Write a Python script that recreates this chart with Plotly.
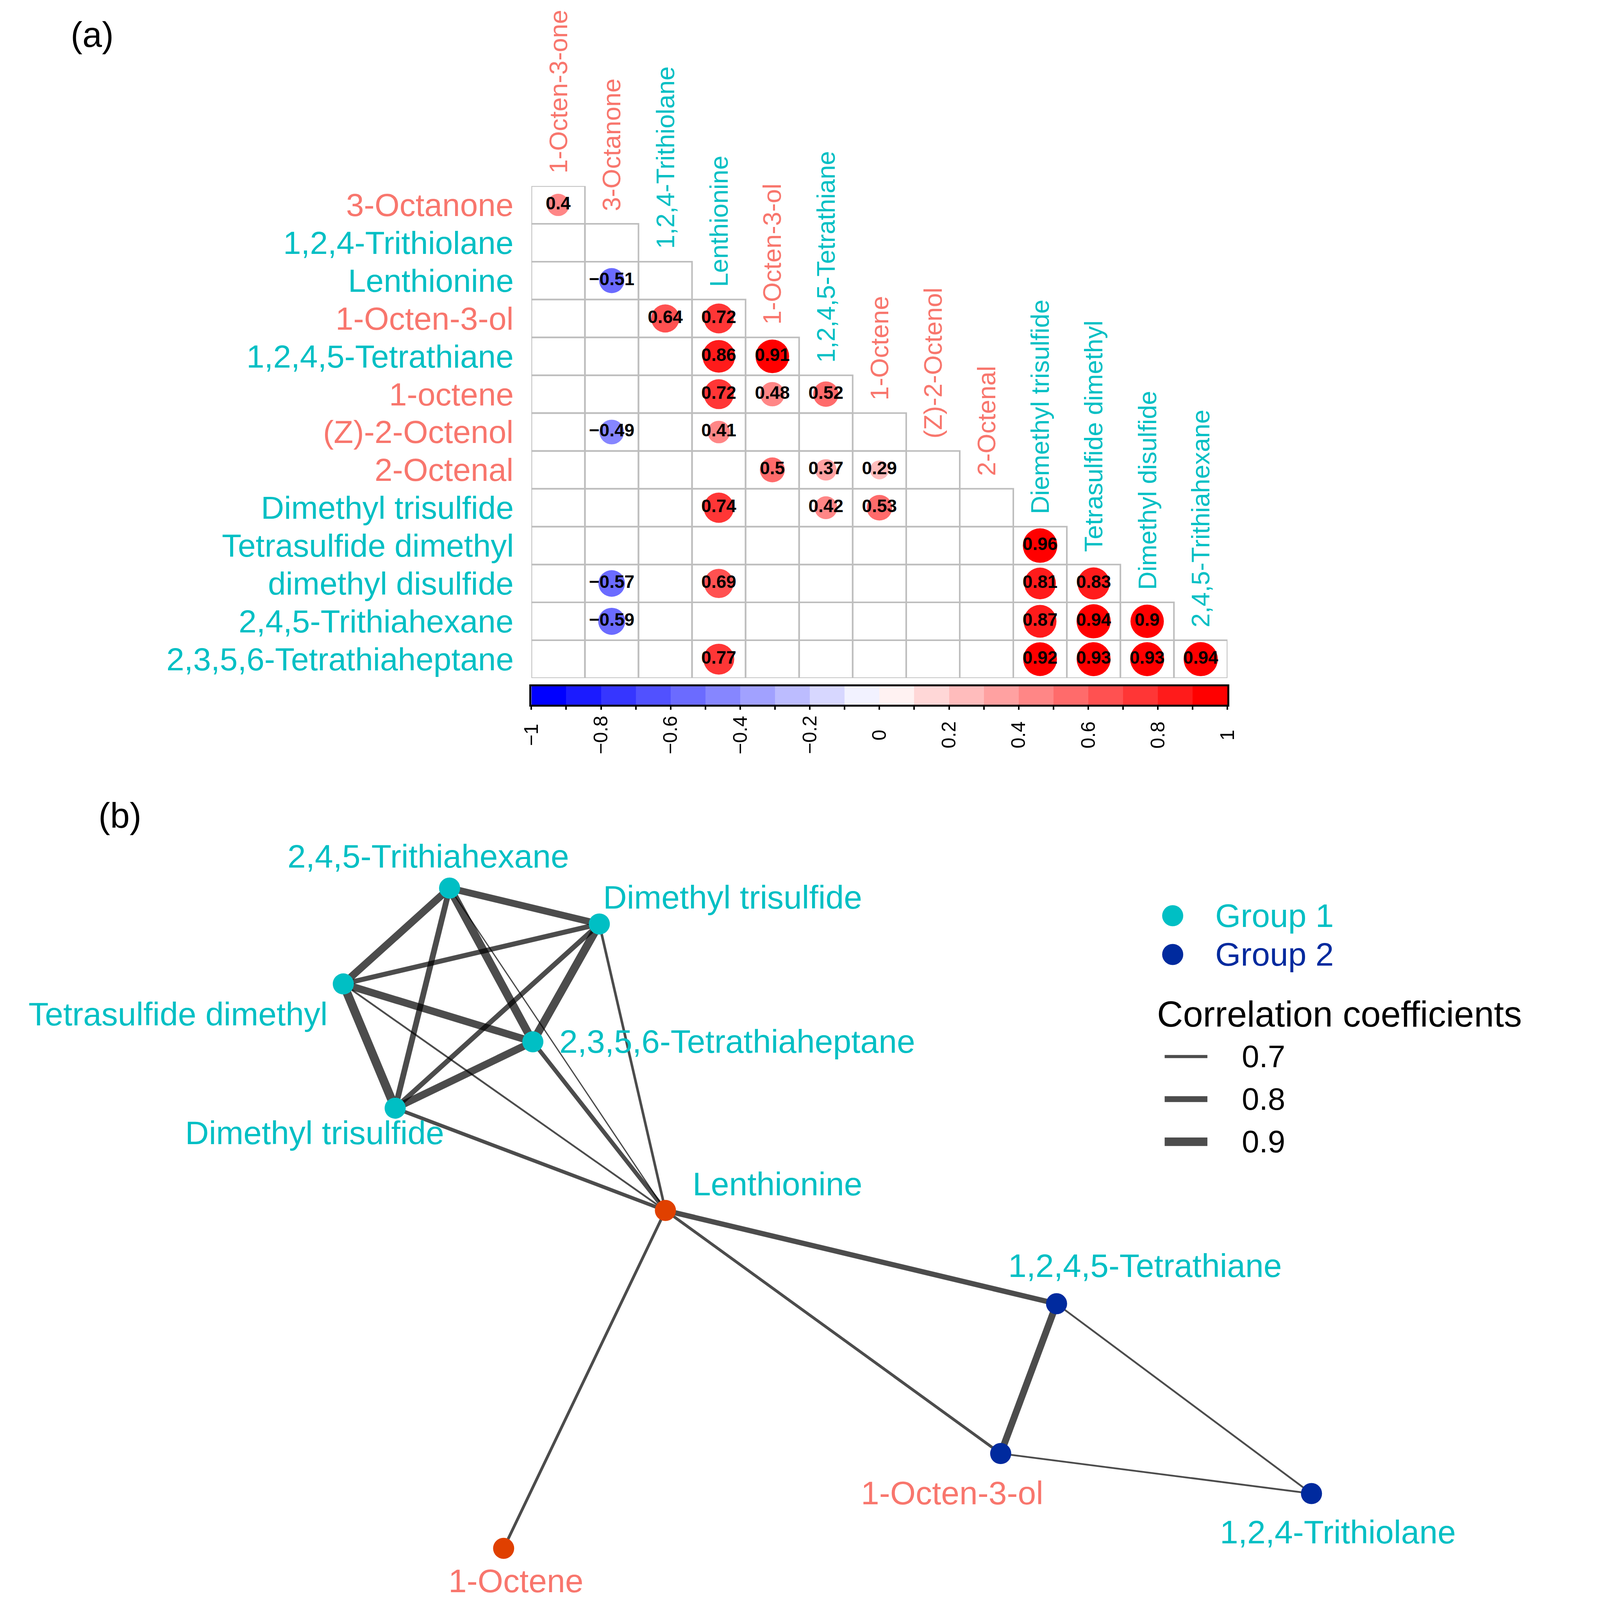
import math
import plotly.graph_objects as go

# design grid (reference picture, px) and the size actually rendered
W_REF, H_REF = 4381, 6194
FIG_W, FIG_H = 4096, 4096
SX, SY = FIG_W / W_REF, FIG_H / H_REF

FONT = "Liberation Sans, Arial, sans-serif"
SALMON = "#F8766D"
TEAL = "#00BFC4"
NAVY = "#002A9E"
ORANGE = "#E04000"
GRID = "#BEBEBE"
EDGE = "rgba(0,0,0,0.7)"

# ---------------- data: correlation matrix (panel a) ----------------
row_labels = ["3-Octanone", "1,2,4-Trithiolane", "Lenthionine", "1-Octen-3-ol",
              "1,2,4,5-Tetrathiane", "1-octene", "(Z)-2-Octenol", "2-Octenal",
              "Dimethyl trisulfide", "Tetrasulfide dimethyl", "dimethyl disulfide",
              "2,4,5-Trithiahexane", "2,3,5,6-Tetrathiaheptane"]
row_kind = ["o", "s", "s", "o", "s", "o", "o", "o", "s", "s", "s", "s", "s"]
col_labels = ["1-Octen-3-one", "3-Octanone", "1,2,4-Trithiolane", "Lenthionine",
              "1-Octen-3-ol", "1,2,4,5-Tetrathiane", "1-Octene", "(Z)-2-Octenol",
              "2-Octenal", "Diemethyl trisulfide", "Tetrasulfide dimethyl",
              "Dimethyl disulfide", "2,4,5-Trithiahexane"]
col_kind = ["o", "o", "s", "s", "o", "s", "o", "o", "o", "s", "s", "s", "s"]
N = None
corr = [
    [0.40],
    [N, N],
    [N, -0.51, N],
    [N, N, 0.64, 0.72],
    [N, N, N, 0.86, 0.91],
    [N, N, N, 0.72, 0.48, 0.52],
    [N, -0.49, N, 0.41, N, N, N],
    [N, N, N, N, 0.50, 0.37, 0.29, N],
    [N, N, N, 0.74, N, 0.42, 0.53, N, N],
    [N, N, N, N, N, N, N, N, N, 0.96],
    [N, -0.57, N, 0.69, N, N, N, N, N, 0.81, 0.83],
    [N, -0.59, N, N, N, N, N, N, N, 0.87, 0.94, 0.90],
    [N, N, N, 0.77, N, N, N, N, N, 0.92, 0.93, 0.93, 0.94],
]
cbar_ticks = [-1, -0.8, -0.6, -0.4, -0.2, 0, 0.2, 0.4, 0.6, 0.8, 1]

# ---------------- data: network (panel b) ----------------
node_names = ["2,4,5-Trithiahexane", "Dimethyl trisulfide", "Tetrasulfide dimethyl",
              "2,3,5,6-Tetrathiaheptane", "Dimethyl trisulfide", "Lenthionine",
              "1,2,4,5-Tetrathiane", "1-Octen-3-ol", "1,2,4-Trithiolane", "1-Octene"]
node_x = [-0.969, -0.559, -1.260, -0.741, -1.118, -0.378, 0.693, 0.540, 1.391, -0.821]
node_y = [1.262, 1.123, 0.891, 0.667, 0.410, 0.014, -0.347, -0.927, -1.082, -1.294]
node_group = ["Group 1", "Group 1", "Group 1", "Group 1", "Group 1", "Hub",
              "Group 2", "Group 2", "Group 2", "Hub"]
node_kind = ["s", "s", "s", "s", "s", "s", "s", "o", "s", "o"]
edge_from = [0, 0, 0, 0, 0, 1, 1, 1, 1, 2, 2, 2, 3, 3, 4, 5, 5, 5, 6, 6, 7]
edge_to = [1, 2, 3, 4, 5, 2, 3, 4, 5, 3, 4, 5, 4, 5, 5, 6, 7, 9, 7, 8, 8]
edge_r = [0.84, 0.86, 0.89, 0.80, 0.63, 0.77, 0.89, 0.77, 0.68, 0.86, 0.91, 0.65,
          0.86, 0.74, 0.72, 0.78, 0.69, 0.69, 0.84, 0.65, 0.65]
legend_groups = ["Group 1", "Group 2"]
legend_r = [0.7, 0.8, 0.9]

# ---------------- styles ----------------
kind_color = {"o": SALMON, "s": TEAL}
group_color = {"Group 1": TEAL, "Group 2": NAVY, "Hub": ORANGE}
# label offsets (reference px) relative to node: (xanchor, dx, dy_up)
label_offsets = [("center", -58, 124), ("center", 365, 103), ("center", -452, -117),
                 ("left", 70, 2), ("center", -220, -95), ("center", 306, 103),
                 ("center", 242, 147), ("center", -133, -152), ("center", 72, -149),
                 ("center", 34, -126)]
F_ROW = 82
F_COL = 65
F_CELL = 46
F_CBAR = 50
F_NET = 84
F_PANEL = 90
F_LEG_TITLE = 92
F_LEG_NUM = 80
LINE_SCALE = 0.8


def edge_width(r):
    return max(3.0, 10 + (r - 0.7) * 85) * LINE_SCALE


def fmt(v):
    return f"{v:g}".replace("-", "\u2212")


def ramp(n):
    out = []
    for i in range(n):
        t = i / (n - 1)
        if t <= 0.5:
            f = t / 0.5
            c = (round(255 * f), round(255 * f), 255)
        else:
            f = (t - 0.5) / 0.5
            c = (255, round(255 * (1 - f)), round(255 * (1 - f)))
        out.append("rgb(%d,%d,%d)" % c)
    return out


pal = ramp(20)
cscale = []
for k, c in enumerate(pal):
    cscale.append([k / 20, c])
    cscale.append([(k + 1) / 20, c])


def px_x(px):
    return px / W_REF


def px_y(py):
    return 1 - py / H_REF


fig = go.Figure()

# ---------------- panel a: grid ----------------
shapes = []
nrow = len(row_labels)
for i in range(nrow):
    for j in range(i + 1):
        shapes.append(dict(type="rect", xref="x", yref="y", x0=j - 0.5, x1=j + 0.5,
                           y0=i - 0.5, y1=i + 0.5, line=dict(color=GRID, width=4),
                           fillcolor="rgba(0,0,0,0)", layer="below"))

cx, cy, cv = [], [], []
for i, row in enumerate(corr):
    for j, v in enumerate(row):
        if v is not None:
            cx.append(j)
            cy.append(i)
            cv.append(v)

cell_h = (2625 - 720) * SY / nrow
CIRCLE_D = 0.93 * cell_h
fig.add_trace(go.Scatter(
    x=cx, y=cy, mode="markers+text", xaxis="x", yaxis="y",
    marker=dict(size=[CIRCLE_D * math.sqrt(abs(v)) for v in cv], color=cv,
                colorscale=cscale, cmin=-1, cmax=1, line=dict(width=0), opacity=1),
    text=[fmt(v) for v in cv], textposition="middle center",
    textfont=dict(family=FONT, size=F_CELL, color="black", weight="bold"),
    hoverinfo="skip", showlegend=False))

# colour key as a heatmap strip
bins = [-0.95 + 0.1 * k for k in range(20)]
fig.add_trace(go.Heatmap(x=bins, y=[0], z=[bins], colorscale=cscale, zmin=-1, zmax=1,
                         showscale=False, xaxis="x3", yaxis="y3", hoverinfo="skip"))

annotations = []
for i, lab in enumerate(row_labels):
    annotations.append(dict(x=-0.5, y=i, xref="x", yref="y", text=lab, showarrow=False,
                            xanchor="right", yanchor="middle", xshift=-46 * SX,
                            font=dict(family=FONT, size=F_ROW, color=kind_color[row_kind[i]])))
for j, lab in enumerate(col_labels):
    annotations.append(dict(x=j, y=j - 0.5, xref="x", yref="y", text=lab, showarrow=False,
                            textangle=-90, xanchor="center", yanchor="bottom",
                            yshift=46 * SY,
                            font=dict(family=FONT, size=F_COL, color=kind_color[col_kind[j]])))
for t in cbar_ticks:
    annotations.append(dict(x=t, y=px_y(2845), xref="x3", yref="paper", text=fmt(t),
                            showarrow=False, textangle=-90, xanchor="center",
                            yanchor="middle", font=dict(family=FONT, size=F_CBAR, color="black")))

annotations.append(dict(x=px_x(252), y=px_y(134), xref="paper", yref="paper", text="(a)",
                        showarrow=False, xanchor="center", yanchor="middle",
                        font=dict(family=FONT, size=F_PANEL, color="black")))
annotations.append(dict(x=px_x(328), y=px_y(3157), xref="paper", yref="paper", text="(b)",
                        showarrow=False, xanchor="center", yanchor="middle",
                        font=dict(family=FONT, size=F_PANEL, color="black")))

# ---------------- panel b: network ----------------
for a, b, r in zip(edge_from, edge_to, edge_r):
    fig.add_trace(go.Scatter(x=[node_x[a], node_x[b]], y=[node_y[a], node_y[b]],
                             mode="lines", xaxis="x2", yaxis="y2",
                             line=dict(color=EDGE, width=edge_width(r)),
                             hoverinfo="skip", showlegend=False))

NODE_D = 54
fig.add_trace(go.Scatter(x=node_x, y=node_y, mode="markers", xaxis="x2", yaxis="y2",
                         marker=dict(size=NODE_D, color=[group_color[g] for g in node_group],
                                     line=dict(width=0)),
                         hoverinfo="skip", showlegend=False))

for k, name in enumerate(node_names):
    anc, dx, dy = label_offsets[k]
    annotations.append(dict(x=node_x[k], y=node_y[k], xref="x2", yref="y2", text=name,
                            showarrow=False, xanchor=anc, yanchor="middle",
                            xshift=dx * SX, yshift=dy * SY,
                            font=dict(family=FONT, size=F_NET, color=kind_color[node_kind[k]])))


# legend (drawn by hand)
def lx(px):
    return (px - 2200) / 1000


def ly(py):
    return (4700 - py) / 1000


leg_y = [3545, 3695]
fig.add_trace(go.Scatter(x=[lx(3211)] * 2, y=[ly(v) for v in leg_y], mode="markers",
                         xaxis="x2", yaxis="y2",
                         marker=dict(size=NODE_D, color=[group_color[g] for g in legend_groups]),
                         hoverinfo="skip", showlegend=False))
for g, yy in zip(legend_groups, leg_y):
    annotations.append(dict(x=px_x(3325), y=px_y(yy), xref="paper", yref="paper", text=g,
                            showarrow=False, xanchor="left", yanchor="middle",
                            font=dict(family=FONT, size=F_NET, color=group_color[g])))
annotations.append(dict(x=px_x(3166), y=px_y(3925), xref="paper", yref="paper",
                        text="Correlation coefficients", showarrow=False,
                        xanchor="left", yanchor="middle",
                        font=dict(family=FONT, size=F_LEG_TITLE, color="black")))
leg_ly = [4090, 4255, 4420]
for r, yy in zip(legend_r, leg_ly):
    shapes.append(dict(type="line", xref="paper", yref="paper", x0=px_x(3189), x1=px_x(3306),
                       y0=px_y(yy), y1=px_y(yy), line=dict(color=EDGE, width=edge_width(r))))
    annotations.append(dict(x=px_x(3398), y=px_y(yy), xref="paper", yref="paper",
                            text=fmt(r), showarrow=False, xanchor="left", yanchor="middle",
                            font=dict(family=FONT, size=F_LEG_NUM, color="black")))

hidden = dict(visible=False, showgrid=False, zeroline=False)
fig.update_layout(
    width=FIG_W, height=FIG_H, margin=dict(l=0, r=0, t=0, b=0),
    paper_bgcolor="white", plot_bgcolor="rgba(0,0,0,0)",
    showlegend=False, hovermode=False,
    xaxis=dict(domain=[1455 / W_REF, 3361 / W_REF], range=[-0.5, 12.5], anchor="y", **hidden),
    yaxis=dict(domain=[1 - 2625 / H_REF, 1 - 720 / H_REF], range=[12.5, -0.5], anchor="x",
               **hidden),
    xaxis3=dict(domain=[1455 / W_REF, 3361 / W_REF], range=[-1, 1], anchor="y3",
                showline=True, linewidth=5, linecolor="black", mirror=True,
                ticks="outside", tickmode="linear", tick0=-1, dtick=0.1, ticklen=8,
                tickwidth=4, tickcolor="black", showticklabels=False,
                showgrid=False, zeroline=False),
    yaxis3=dict(domain=[1 - 2728 / H_REF, 1 - 2657 / H_REF], range=[-0.5, 0.5], anchor="x3",
                showline=True, linewidth=5, linecolor="black", mirror=True,
                ticks="", showticklabels=False, showgrid=False, zeroline=False),
    xaxis2=dict(domain=[0, 1], range=[lx(0), lx(W_REF)], anchor="y2", **hidden),
    yaxis2=dict(domain=[0, 1 - 3050 / H_REF], range=[ly(H_REF), ly(3050)], anchor="x2",
                **hidden),
    shapes=shapes, annotations=annotations,
)

fig.write_html("out.html", config={"displayModeBar": False},
               post_script="document.body.style.margin='0';")
